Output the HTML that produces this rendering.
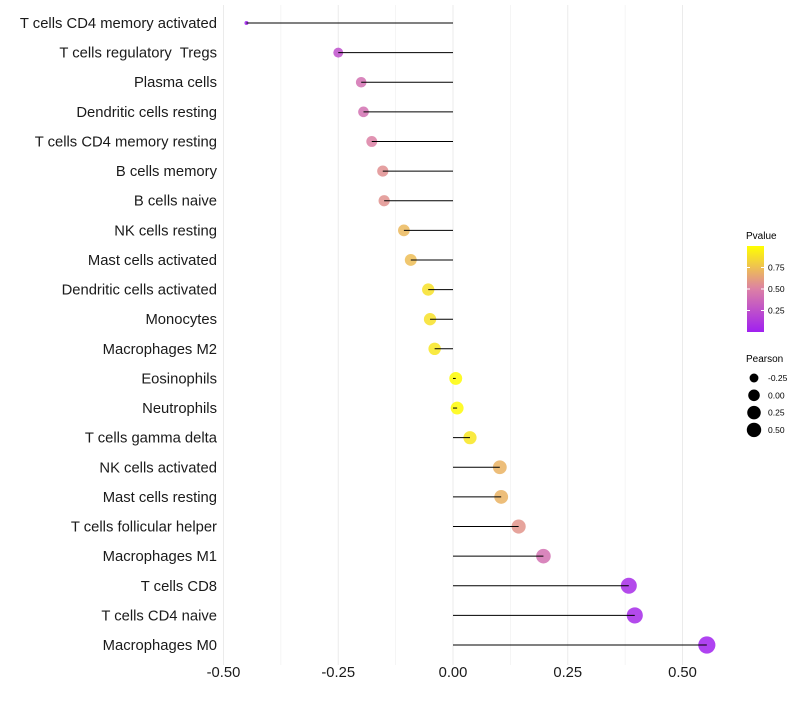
<!DOCTYPE html>
<html><head><meta charset="utf-8"><style>
body{margin:0;background:#fff;font-family:"Liberation Sans",sans-serif}
text{white-space:pre}
</style></head><body>
<svg id="c" width="800" height="700" xmlns="http://www.w3.org/2000/svg" font-family="Liberation Sans, sans-serif"></svg>
<script>
const categories=["T cells CD4 memory activated","T cells regulatory  Tregs","Plasma cells","Dendritic cells resting","T cells CD4 memory resting","B cells memory","B cells naive","NK cells resting","Mast cells activated","Dendritic cells activated","Monocytes","Macrophages M2","Eosinophils","Neutrophils","T cells gamma delta","NK cells activated","Mast cells resting","T cells follicular helper","Macrophages M1","T cells CD8","T cells CD4 naive","Macrophages M0"];
const pearson=[-0.45,-0.25,-0.20,-0.195,-0.177,-0.153,-0.150,-0.107,-0.092,-0.054,-0.050,-0.040,0.006,0.009,0.037,0.102,0.105,0.143,0.197,0.383,0.396,0.553];
const pvalue=[0.01,0.25,0.42,0.42,0.5,0.56,0.57,0.72,0.74,0.88,0.88,0.9,0.99,0.98,0.9,0.7,0.7,0.58,0.42,0.06,0.05,0.01];
const xTicks=[-0.5,-0.25,0,0.25,0.5];
const xTickLabels=["-0.50","-0.25","0.00","0.25","0.50"];
const pTicks=[0.25,0.5,0.75];
const sizeLegend=[-0.25,0,0.25,0.5];
const NS="http://www.w3.org/2000/svg",svg=document.getElementById('c');
function el(t,a,p){const e=document.createElementNS(NS,t);for(const k in a)e.setAttribute(k,a[k]);(p||svg).appendChild(e);return e;}
const x=v=>453+v*459;
const y=i=>23+i*(622/21);
const pmin=Math.min(...pearson),pmax=Math.max(...pearson);
const rad=v=>2+6.6*Math.sqrt(Math.max(0,(v-pmin)/(pmax-pmin)));
function col(p){const a=[160,32,240],b=[220,128,165],c=[255,255,0];let s,e,t;if(p<0.5){s=a;e=b;t=p/0.5}else{s=b;e=c;t=(p-0.5)/0.5}return `rgb(${s.map((v,k)=>Math.round(v+(e[k]-v)*t)).join(',')})`;}
for(let v=-0.5;v<=0.51;v+=0.125){const g=el('line',{x1:x(v),x2:x(v),y1:5,y2:665,stroke:'#ebebeb','stroke-width':Math.abs((v*4)%1)<0.01?1:0.5});}
categories.forEach((c,i)=>{
 const t=el('text',{x:217,y:y(i)+5,'text-anchor':'end','font-size':14.8,fill:'#1a1a1a'});t.textContent=c;
 
 const d=el('circle',{cx:x(pearson[i]),cy:y(i),r:rad(pearson[i]),fill:col(pvalue[i]),'fill-opacity':0.85});
 
 const l=el('line',{x1:x(0),x2:x(pearson[i]),y1:y(i),y2:y(i),stroke:'#000','stroke-width':1});
 
});
xTicks.forEach((v,i)=>{const t=el('text',{x:x(v),y:677,'text-anchor':'middle','font-size':14.8,fill:'#1a1a1a'});t.textContent=xTickLabels[i];});
const t1=el('text',{x:746,y:239,'font-size':10});t1.textContent='Pvalue';
const defs=el('defs',{});const gr=el('linearGradient',{id:'g',x1:0,y1:1,x2:0,y2:0},defs);
[0,0.25,0.5,0.75,1].forEach(p=>el('stop',{offset:p,'stop-color':col(p)},gr));
const bar=el('rect',{x:747,y:246,width:17,height:86,fill:'url(#g)'});
pTicks.forEach(p=>{const yy=332-p*86;el('line',{x1:747,x2:750,y1:yy,y2:yy,stroke:'#fff'});el('line',{x1:761,x2:764,y1:yy,y2:yy,stroke:'#fff'});const t=el('text',{x:768,y:yy+3,'font-size':8.5});t.textContent=p.toFixed(2);});
const t2=el('text',{x:746,y:362,'font-size':10});t2.textContent='Pearson';
sizeLegend.forEach((v,i)=>{const yy=378+i*17.3;const c=el('circle',{cx:754,cy:yy,r:Math.min(7.2,rad(v)*0.9),fill:'#000'});const t=el('text',{x:768,y:yy+3,'font-size':8.5});t.textContent=v.toFixed(2);});
</script>
</body></html>
